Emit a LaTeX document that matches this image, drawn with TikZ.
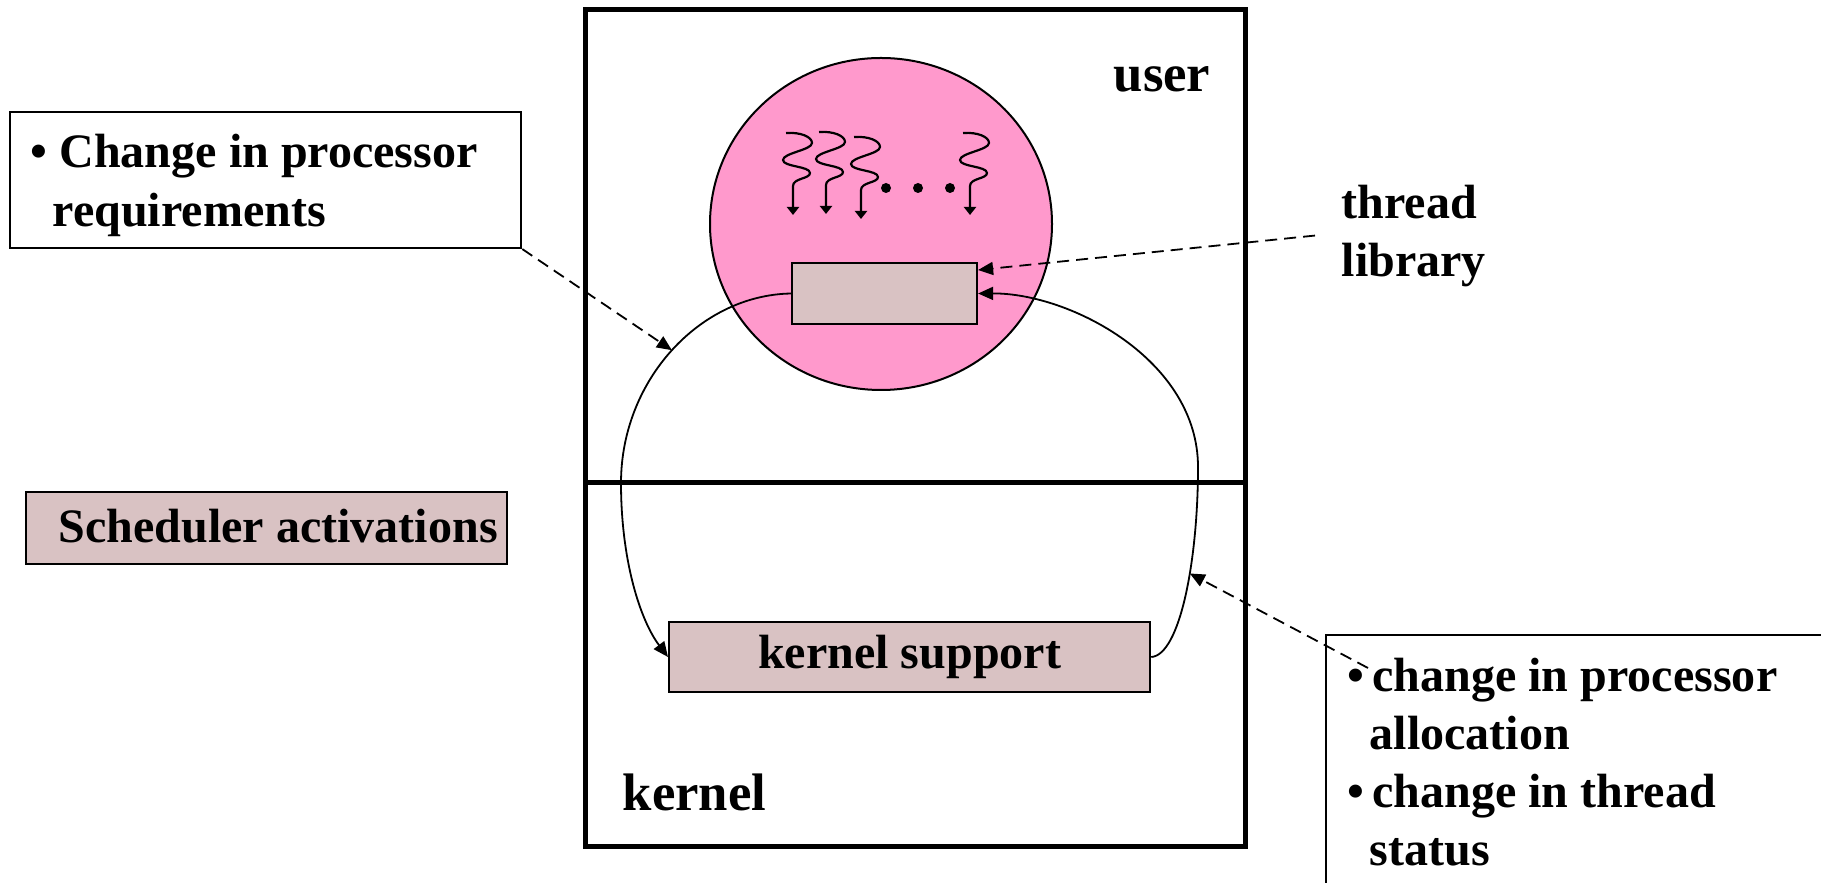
\documentclass[tikz,border=0pt]{standalone}
\usepackage{fontspec}
\setmainfont{Liberation Serif}
\usetikzlibrary{arrows.meta,calc,positioning}

\definecolor{poolpink}{RGB}{255,153,204}
\definecolor{boxfill}{RGB}{217,194,195}

\newcommand{\slidefont}[1]{\fontsize{13.66pt}{#1}\selectfont\bfseries}

\tikzset{
	thin line/.style={line width=0.018cm},
	frame line/.style={line width=0.05cm},
	box line/.style={line width=0.02cm},
	headed/.style={-{Triangle[length=0.15cm,width=0.13cm]}},
	pointer/.style={thin line, dash pattern=on 0.12cm off 0.07cm, headed},
	slidetext/.style={inner sep=0pt, align=left, font=\slidefont{16pt}},
	squiggle/.pic={
		\draw [line width=0.022cm, -{Triangle[length=0.08cm,width=0.12cm]}]
		(-7,0) .. controls (8,-1) and (19,4) .. (19,10)
		.. controls (19,17) and (-10,20) .. (-10,27)
		.. controls (-10,34) and (17,33) .. (17,40)
		.. controls (17,46) and (0,45) .. (0,53) -- (0,82);
	}
}

\begin{document}
\begin{tikzpicture}[x=0.01cm, y=-0.01cm]
                        \useasboundingbox (0,0) rectangle (1821,883);
                        \clip (0,0) rectangle (1821,883);
                        
                        % Drawing frame user/kernel
                        \draw [frame line] (585,10) rectangle (1245,847);%
                        \draw [frame line] (585,483) -- (1245,483);%
                        
                        % Drawing thread pool
                        \draw [box line, fill=poolpink] (881,224) ellipse [x radius=171, y radius=166];%
                        
                        % Drawing threads
                        \foreach \tx/\ty in {793/133, 826/132, 861/137, 970/133}
                        \pic at (\tx,\ty) {squiggle};
                        \foreach \dx in {886,918,950}
                        \fill (\dx,188) circle [radius=5];
                        
                        % Drawing box thread library
                        \node [draw, box line, fill=boxfill, anchor=north west,
                        minimum width=1.85cm, minimum height=0.61cm] (libbox) at (791,262) {};%
                        
                        % Drawing box kernel support
                        \node [draw, box line, fill=boxfill, anchor=north west, font=\slidefont{16pt},
                        minimum width=4.81cm, minimum height=0.70cm] (kernbox) at (668,621) {kernel support};%
                        
                        % Drawing box processor requirements
                        \node [draw, box line, fill=white, anchor=north west,
                        minimum width=5.11cm, minimum height=1.36cm] (reqbox) at (9,111) {};%
                        \node [slidetext, font=\slidefont{16.7pt}, anchor=north west] (reqtext)
                        at ([xshift=0.21cm, yshift=-0.225cm]reqbox.north west)
                        {\textbullet\ Change in processor\\\hspace*{0.22cm}requirements};%
                        
                        % Drawing box scheduler activations
                        \node [draw, box line, fill=boxfill, anchor=north west,
                        minimum width=4.81cm, minimum height=0.72cm] (schedbox) at (25,491) {};%
                        \node [slidetext, anchor=base west] (schedtext)
                        at ([xshift=0.33cm, yshift=-0.51cm]schedbox.north west) {Scheduler activations};%
                        
                        % Drawing box processor allocation
                        \node [draw, box line, fill=white, anchor=north west,
                        minimum width=6cm, minimum height=3cm] (allocbox) at (1325,634) {};%
                        \node [slidetext, font=\slidefont{16.5pt}, anchor=north west] (alloctext)
                        at ([xshift=0.22cm, yshift=-0.235cm]allocbox.north west)
                        {\textbullet\hspace{0.08cm}change in processor\\\hspace*{0.22cm}allocation\\
                        \textbullet\hspace{0.08cm}change in thread\\\hspace*{0.22cm}status};%
                        \coordinate (alloctip) at (1368,668);
                        
                        % Marking point {user}
                        \node [slidetext, font=\fontsize{15pt}{18pt}\selectfont\bfseries, anchor=base west]
                        (userlbl) at (1113,92) {user};%
                        
                        % Marking point {kernel}
                        \node [slidetext, font=\fontsize{15pt}{18pt}\selectfont\bfseries, anchor=base west]
                        (kernlbl) at (622,811) {kernel};%
                        
                        % Marking point {thread library}
                        \node [slidetext, font=\slidefont{16.5pt}, anchor=north west, inner xsep=0.26cm]
                        (libtext) at (1315,184) {thread\\library};%
                        
                        % Drawing curve library to kernel
                        \draw [thin line, headed] (libbox.west) .. controls (700,295) and (621,380) .. (621,483)
                        coordinate [pos=0.5] (lhit)
                        .. controls (621,560) and (640,620) .. (kernbox.west);%
                        
                        % Drawing curve kernel to library
                        \draw [thin line, headed] (kernbox.east) .. controls (1180,655) and (1198,560) .. (1198,467)
                        coordinate [pos=0.6] (rhit)
                        .. controls (1198,360) and (1070,293) .. (libbox.east);%
                        
                        % Drawing dashed arrows
                        \draw [pointer] (reqbox.south east) -- (lhit);%
                        \draw [pointer] (libtext.west) -- ([yshift=-0.08cm]libbox.north east);%
                        \draw [pointer] (alloctip) -- (rhit);%
\end{tikzpicture}
\end{document}
